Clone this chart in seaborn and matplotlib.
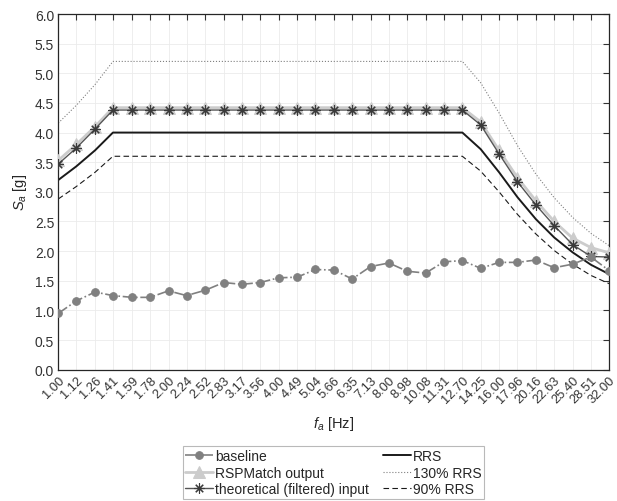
import numpy as np
import pandas as pd
import matplotlib
matplotlib.use("Agg")
import matplotlib.pyplot as plt
import seaborn as sns
from matplotlib.ticker import NullLocator

sns.set_style("white")
plt.rcParams['font.family'] = ['Liberation Sans', 'DejaVu Sans']
plt.rcParams['mathtext.fontset'] = 'custom'
plt.rcParams['mathtext.rm'] = 'Liberation Sans'
plt.rcParams['mathtext.it'] = 'Liberation Sans:italic'

# frequency ticks [Hz]
freq_labels = ['1.00', '1.12', '1.26', '1.41', '1.59', '1.78', '2.00', '2.24', '2.52', '2.83',
               '3.17', '3.56', '4.00', '4.49', '5.04', '5.66', '6.35', '7.13', '8.00', '8.98',
               '10.08', '11.31', '12.70', '14.25', '16.00', '17.96', '20.16', '22.63', '25.40',
               '28.51', '32.00']
freq = [float(f) for f in freq_labels]

# spectral accelerations [g]
baseline = [0.95, 1.16, 1.31, 1.25, 1.22, 1.22, 1.33, 1.25, 1.34, 1.47, 1.44, 1.47, 1.55, 1.56,
            1.69, 1.68, 1.53, 1.74, 1.80, 1.66, 1.63, 1.82, 1.84, 1.71, 1.81, 1.81, 1.85, 1.72,
            1.78, 1.90, 1.67]
rspmatch = [3.53, 3.80, 4.10, 4.42, 4.42, 4.42, 4.42, 4.42, 4.42, 4.42, 4.42, 4.42, 4.42, 4.42,
            4.42, 4.42, 4.42, 4.42, 4.42, 4.42, 4.42, 4.42, 4.42, 4.18, 3.70, 3.24, 2.85, 2.50,
            2.22, 2.06, 1.97]
theoretical = [3.47, 3.74, 4.06, 4.38, 4.38, 4.38, 4.38, 4.38, 4.38, 4.38, 4.38, 4.38, 4.38, 4.38,
               4.38, 4.38, 4.38, 4.38, 4.38, 4.38, 4.38, 4.38, 4.38, 4.13, 3.64, 3.17, 2.78, 2.43,
               2.11, 1.91, 1.90]
rrs = [3.20, 3.43, 3.70, 4.00, 4.00, 4.00, 4.00, 4.00, 4.00, 4.00, 4.00, 4.00, 4.00, 4.00,
       4.00, 4.00, 4.00, 4.00, 4.00, 4.00, 4.00, 4.00, 4.00, 3.72, 3.33, 2.91, 2.54, 2.23,
       1.98, 1.77, 1.61]
rrs130 = [4.16, 4.46, 4.81, 5.20, 5.20, 5.20, 5.20, 5.20, 5.20, 5.20, 5.20, 5.20, 5.20, 5.20,
          5.20, 5.20, 5.20, 5.20, 5.20, 5.20, 5.20, 5.20, 5.20, 4.84, 4.33, 3.78, 3.30, 2.90,
          2.57, 2.30, 2.09]
rrs90 = [2.88, 3.09, 3.33, 3.60, 3.60, 3.60, 3.60, 3.60, 3.60, 3.60, 3.60, 3.60, 3.60, 3.60,
         3.60, 3.60, 3.60, 3.60, 3.60, 3.60, 3.60, 3.60, 3.60, 3.35, 3.00, 2.62, 2.29, 2.01,
         1.78, 1.59, 1.45]

df = pd.DataFrame({'f': freq, 'baseline': baseline, 'rspmatch': rspmatch,
                   'theoretical': theoretical, 'rrs': rrs, 'rrs130': rrs130, 'rrs90': rrs90})

fig = plt.figure(figsize=(6.17, 5.02), dpi=100)
ax = fig.add_axes([0.0945, 0.2616, 0.893, 0.7085])

sns.lineplot(data=df, x='f', y='rrs130', ax=ax, color='#808080', lw=0.8, ls=':', label='130% RRS', zorder=2)
sns.lineplot(data=df, x='f', y='rrs90', ax=ax, color='#1a1a1a', lw=0.8, ls=(0, (5, 3)), label='90% RRS', zorder=2)
sns.lineplot(data=df, x='f', y='rrs', ax=ax, color='#1a1a1a', lw=1.4, label='RRS', zorder=2)
sns.lineplot(data=df, x='f', y='rspmatch', ax=ax, color='#cccccc', lw=2.0, marker='^', ms=9,
             mec='#cccccc', mfc='#cccccc', label='RSPMatch output', zorder=3)
sns.lineplot(data=df, x='f', y='theoretical', ax=ax, color='#555555', lw=1.0, marker=(8, 2, 0), ms=7.5,
             mec='#3a3a3a', mfc='#3a3a3a', mew=0.8, label='theoretical (filtered) input', zorder=4)
sns.lineplot(data=df, x='f', y='baseline', ax=ax, color='#808080', lw=1.2, ls='-.', marker='o', ms=5.5,
             mec='#808080', mfc='#808080', label='baseline', zorder=5)

ax.set_xscale('log')
ax.set_xlim(1.0, 32.0)
ax.set_ylim(0, 6)
ax.set_xticks(freq)
ax.set_xticklabels(freq_labels, rotation=45, ha='right', va='top', rotation_mode='anchor')
ax.xaxis.set_minor_locator(NullLocator())
ax.set_yticks(np.arange(0, 6.01, 0.5))
ax.set_yticklabels(['%.1f' % v for v in np.arange(0, 6.01, 0.5)])
ax.tick_params(axis='both', which='major', direction='in', length=4, width=0.8,
               top=True, right=True, colors='#333333', pad=3)
ax.tick_params(axis='y', labelsize=10)
ax.tick_params(axis='x', labelsize=9.3)
ax.grid(True, color='#ebebeb', lw=0.6)
for s in ax.spines.values():
    s.set_color('#262626')
    s.set_linewidth(0.9)

ax.set_xlabel(r'$f_a$ [Hz]', fontsize=10.5, color='#262626', labelpad=6)
ax.set_ylabel(r'$S_a$ [g]', fontsize=10.5, color='#262626', labelpad=4)

h, l = ax.get_legend_handles_labels()
order = ['baseline', 'RSPMatch output', 'theoretical (filtered) input', 'RRS', '130% RRS', '90% RRS']
hd = dict(zip(l, h))
leg = ax.legend([hd[k] for k in order], order, ncol=2, loc='upper center',
                bbox_to_anchor=(0.5405, 0.1096), bbox_transform=fig.transFigure,
                fontsize=10, frameon=True, fancybox=False, edgecolor='#a8a8a8',
                handlelength=2.0, handletextpad=0.15, columnspacing=1.0,
                labelspacing=0.2, borderpad=0.2, borderaxespad=0)
leg.get_frame().set_linewidth(0.8)

fig.savefig('out.png', dpi=100)
